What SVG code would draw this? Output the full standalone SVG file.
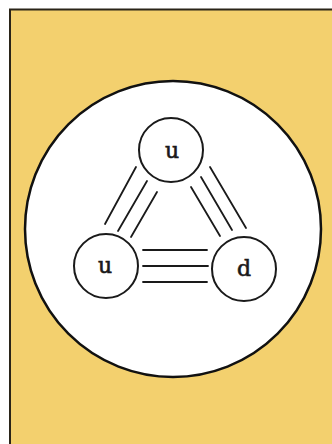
<svg xmlns="http://www.w3.org/2000/svg" width="332" height="444" viewBox="0 0 332 444">
<style>
.bond{stroke:#1a1a1a;stroke-width:1.8;fill:none;stroke-linecap:round}
.quark circle{fill:#fff;stroke:#1a1a1a;stroke-width:2}
.quark text{font-family:"DejaVu Serif","Liberation Serif",serif;font-size:22px;fill:#1a1a1a;stroke:#1a1a1a;stroke-width:0.6;text-anchor:middle}
</style>
<rect width="332" height="444" fill="#fff"/>
<rect x="10" y="9.5" width="330" height="440" fill="#f3d06e" stroke="#2a2418" stroke-width="2"/>
<circle id="proton" cx="173" cy="229" r="148" fill="#fff" stroke="#111" stroke-width="2.5"/>
<g id="connectors">
<line class="bond" x1="105" y1="224" x2="136" y2="167"/>
<line class="bond" x1="118" y1="231" x2="147" y2="181"/>
<line class="bond" x1="131" y1="237" x2="157" y2="192"/>
<line class="bond" x1="191" y1="187" x2="220" y2="236"/>
<line class="bond" x1="201" y1="177" x2="232" y2="230"/>
<line class="bond" x1="210" y1="167" x2="246" y2="228"/>
<line class="bond" x1="143" y1="250" x2="207" y2="250"/>
<line class="bond" x1="143" y1="266" x2="208" y2="266"/>
<line class="bond" x1="143" y1="282" x2="207" y2="282"/>
</g>
<g id="quark-top" class="quark">
<circle cx="171" cy="150" r="32"/>
<text x="172" y="158">u</text>
</g>
<g id="quark-left" class="quark">
<circle cx="106" cy="266" r="32"/>
<text x="105" y="273">u</text>
</g>
<g id="quark-right" class="quark">
<circle cx="244" cy="269" r="32"/>
<text x="244" y="276">d</text>
</g>
</svg>
